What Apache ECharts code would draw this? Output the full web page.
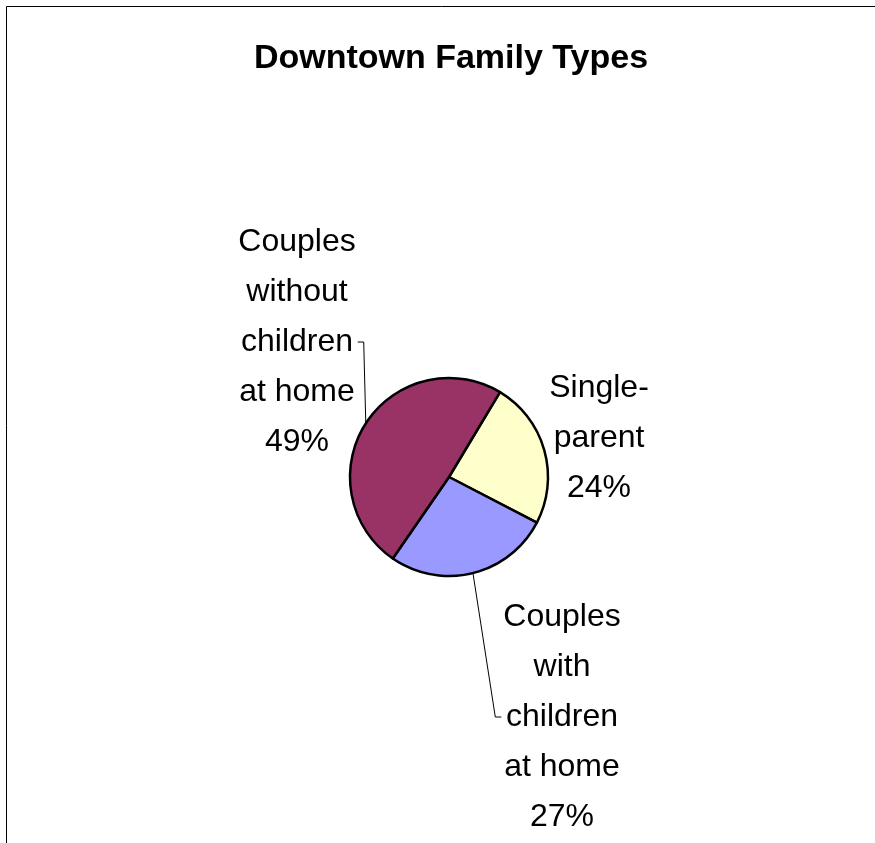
<!DOCTYPE html>
<html>
<head>
<meta charset="utf-8">
<script src="https://cdn.jsdelivr.net/npm/echarts@6/dist/echarts.min.js"></script>
<style>
  html, body { margin: 0; padding: 0; background: #fff; }
  #chart { width: 875px; height: 843px; }
</style>
</head>
<body>
<div id="chart"></div>
<script>
const categories = ['Single-parent', 'Couples with children at home', 'Couples without children at home'];
const labelText = [['Single-', 'parent'], ['Couples', 'with', 'children', 'at home'], ['Couples', 'without', 'children', 'at home']];
const shares = [24, 27, 49];
const colors = ['#FFFFCC', '#9999FF', '#993366'];

// where each label block sits (centre), as in the original layout
const labelCenters = [[599, 438], [562, 717], [297, 342]];

const chart = echarts.init(document.getElementById('chart'));

chart.setOption({
  animation: false,
  backgroundColor: '#fff',
  title: {
    text: 'Downtown Family Types',
    left: 446,
    textAlign: 'center',
    top: 37,
    textStyle: { fontFamily: 'Liberation Sans, Arial', fontWeight: 'bold', fontSize: 34, color: '#000' }
  },
  graphic: [{
    type: 'rect',
    silent: true,
    shape: { x: 6.5, y: 6.5, width: 1000, height: 1000 },
    style: { fill: 'none', stroke: '#000', lineWidth: 1 }
  }],
  series: [{
    type: 'pie',
    center: [449, 477],
    radius: 99,
    startAngle: 59,
    clockwise: true,
    data: categories.map((name, i) => ({
      name: name,
      value: shares[i],
      itemStyle: { color: colors[i] },
      labelLine: { show: i !== 0 }
    })),
    itemStyle: { borderColor: '#000', borderWidth: 2.5 },
    label: {
      formatter: p => labelText[p.dataIndex].join('\n') + '\n' + p.value + '%',
      fontFamily: 'Liberation Sans, Arial',
      fontSize: 32,
      lineHeight: 50,
      color: '#000',
      align: 'center'
    },
    labelLine: { show: true, length: 10, length2: 10, lineStyle: { color: '#000', width: 1 } },
    labelLayout: function (params) {
      const c = labelCenters[params.dataIndex];
      const w = params.labelRect.width;
      const res = { x: c[0], y: c[1], align: 'center', verticalAlign: 'middle' };
      const pts = params.labelLinePoints;
      if (pts) {
        const start = pts[0];
        const left = start[0] < c[0];
        const side = left ? c[0] - w / 2 - 2 : c[0] + w / 2 + 2;
        const bend = left ? side - 6 : side + 6;
        res.labelLinePoints = [start, [bend, c[1]], [side, c[1]]];
      }
      return res;
    }
  }]
});
</script>
</body>
</html>
